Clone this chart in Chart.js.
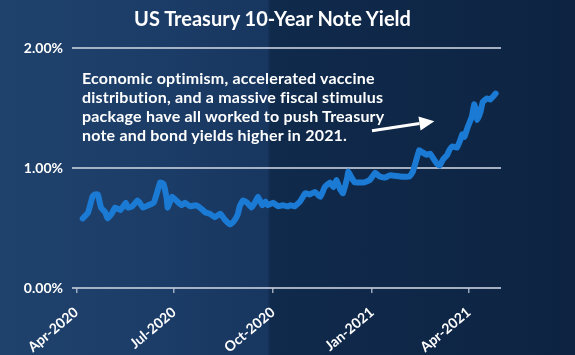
<!DOCTYPE html>
<html>
<head>
<meta charset="utf-8">
<script src="https://cdn.jsdelivr.net/npm/chart.js@4.4.0/dist/chart.umd.min.js"></script>
<style>
  html, body { margin: 0; padding: 0; }
  body {
    width: 575px; height: 355px; overflow: hidden; position: relative;
    background: linear-gradient(to right, #1f426d 0%, #1b3c66 30%, #173660 46.5%, #102a4c 47%, #0f2747 75%, #0d2341 100%);
  }
  #wrap { position: absolute; left: 0; top: 0; width: 575px; height: 355px; }
  #titulo {
    position: absolute; left: 0; top: 6px; width: 545px; text-align: center;
    color: #fff; font: bold 20px Lato, sans-serif;
  }
  #nota {
    position: absolute; left: 82px; top: 68px; width: 340px; white-space: nowrap;
    color: #fff; font: bold 16px Lato, sans-serif; line-height: 19px; letter-spacing: 0.2px;
  }
</style>
</head>
<body>
<div id="wrap"><canvas id="canva1" width="575" height="355"></canvas></div>
<div id="titulo">US Treasury 10-Year Note Yield</div>
<div id="nota">Economic optimism, accelerated vaccine<br>distribution, and a massive fiscal stimulus<br>package have all worked to push Treasury<br>note and bond yields higher in 2021.</div>
<script>
// dados (dias a partir de 01/04/2020, rendimento em %)
var dias = [6, 11, 15, 17, 20, 23, 27, 29, 33, 36, 41, 46, 48, 52, 57, 59, 62, 67, 72, 75, 78, 81, 84, 85, 89, 94, 98,
  101, 106, 111, 115, 120, 124, 129, 134, 138, 143, 146, 150, 152, 155, 159, 163, 166, 169, 173, 176, 178, 183, 188, 192, 197,
  199, 203, 208, 213, 217, 222, 227, 231, 236, 239, 242, 245, 248, 252, 253, 256, 259, 264, 268, 273, 278, 282, 287, 292,
  301, 310, 313, 317, 319, 322, 326, 329, 332, 335, 338, 341, 345, 347, 350, 354, 357, 359, 361, 364, 368, 370, 372, 373,
  376, 378, 382, 385, 387, 390];
var rendimento = [0.58, 0.63, 0.76, 0.78, 0.78, 0.67, 0.63, 0.58, 0.62, 0.67, 0.65, 0.71, 0.67, 0.68, 0.73, 0.71, 0.67, 0.69, 0.71, 0.79, 0.88, 0.87, 0.75, 0.67, 0.76, 0.72, 0.69,
  0.71, 0.68, 0.69, 0.67, 0.63, 0.62, 0.59, 0.62, 0.57, 0.53, 0.55, 0.61, 0.68, 0.73, 0.71, 0.67, 0.71, 0.76, 0.69, 0.72, 0.69, 0.71, 0.68, 0.69, 0.68,
  0.69, 0.68, 0.72, 0.79, 0.78, 0.80, 0.76, 0.84, 0.88, 0.84, 0.90, 0.83, 0.79, 0.92, 0.97, 0.92, 0.88, 0.88, 0.88, 0.90, 0.96, 0.93, 0.92, 0.94,
  0.93, 0.93, 0.97, 1.09, 1.15, 1.13, 1.11, 1.12, 1.08, 1.04, 1.02, 1.07, 1.11, 1.15, 1.18, 1.17, 1.23, 1.28, 1.26, 1.34, 1.43, 1.53, 1.48, 1.40,
  1.47, 1.55, 1.58, 1.57, 1.59, 1.62];
var posicao_ticks = [0, 91, 183, 275, 365];
var rotulos_ticks = ['Apr-2020', 'Jul-2020', 'Oct-2020', 'Jan-2021', 'Apr-2021'];
// seta: cauda e ponta em coordenadas do grafico
var seta = [[275, 1.31], [333, 1.39]];

var pontos = [];
for (var i = 0; i < dias.length; i++) {
  pontos.push({ x: dias[i], y: rendimento[i] });
}

var pluginSeta = {
  id: 'seta',
  afterDatasetsDraw: function (chart) {
    var c = chart.ctx;
    var sx = chart.scales.x, sy = chart.scales.y;
    var x1 = sx.getPixelForValue(seta[0][0]), y1 = sy.getPixelForValue(seta[0][1]);
    var x2 = sx.getPixelForValue(seta[1][0]), y2 = sy.getPixelForValue(seta[1][1]);
    var ang = Math.atan2(y2 - y1, x2 - x1);
    var cab = 15;
    c.save();
    c.strokeStyle = '#fff';
    c.fillStyle = '#fff';
    c.lineWidth = 3;
    c.beginPath();
    c.moveTo(x1, y1);
    c.lineTo(x2 - cab * Math.cos(ang), y2 - cab * Math.sin(ang));
    c.stroke();
    c.beginPath();
    c.moveTo(x2, y2);
    c.lineTo(x2 - cab * Math.cos(ang) + 7 * Math.sin(ang), y2 - cab * Math.sin(ang) - 7 * Math.cos(ang));
    c.lineTo(x2 - cab * Math.cos(ang) - 7 * Math.sin(ang), y2 - cab * Math.sin(ang) + 7 * Math.cos(ang));
    c.closePath();
    c.fill();
    c.restore();
  }
};

var ctx = document.getElementById('canva1').getContext('2d');
var myChart1 = new Chart(ctx, {
  type: 'line',
  data: {
    datasets: [{
      label: '10-Year',
      data: pontos,
      borderColor: '#1b7ad3',
      borderWidth: 6,
      pointRadius: 0,
      tension: 0.1,
      borderJoinStyle: 'round',
      borderCapStyle: 'round'
    }]
  },
  options: {
    responsive: false,
    animation: false,
    layout: { padding: { left: 0, right: 74, top: 48, bottom: 0 } },
    plugins: { legend: { display: false }, tooltip: { enabled: false } },
    scales: {
      x: {
        type: 'linear',
        min: -4,
        max: 395,
        afterBuildTicks: function (scale) {
          scale.ticks = posicao_ticks.map(function (v) { return { value: v }; });
        },
        afterFit: function (scale) { scale.height = 67; },
        ticks: {
          color: '#fff',
          font: { family: 'Lato', weight: 'bold', size: 14 },
          minRotation: 40,
          maxRotation: 40,
          padding: 11,
          callback: function (v) {
            var k = posicao_ticks.indexOf(v);
            return k >= 0 ? rotulos_ticks[k] : '';
          }
        },
        grid: { drawOnChartArea: false, drawTicks: true, tickLength: 5, color: 'rgba(190,200,215,0.8)', lineWidth: 1.5 },
        border: { display: false }
      },
      y: {
        min: 0,
        max: 2,
        afterFit: function (scale) { scale.width = 72; },
        ticks: {
          stepSize: 1,
          color: '#fff',
          padding: 9,
          font: { family: 'Lato', weight: 'bold', size: 14 },
          callback: function (v) { return v.toFixed(2) + '%'; }
        },
        grid: { drawTicks: false, color: 'rgba(190,200,215,0.85)', lineWidth: 2 },
        border: { display: false }
      }
    }
  },
  plugins: [pluginSeta]
});
</script>
</body>
</html>
